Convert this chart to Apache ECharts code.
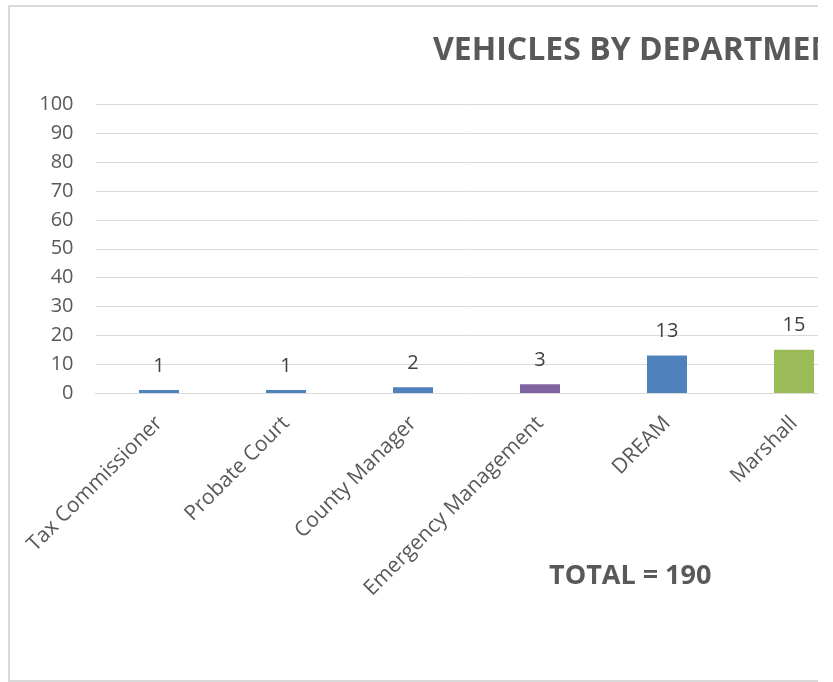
<!DOCTYPE html>
<html>
<head>
<meta charset="utf-8">
<script src="https://cdn.jsdelivr.net/npm/echarts@6/dist/echarts.min.js"></script>
<style>html,body{margin:0;padding:0;background:#fff;}#c{width:833px;height:682px;}</style>
</head>
<body>
<div id="c"></div>
<script>
const categories = ['Tax Commissioner', 'Probate Court', 'County Manager', 'Emergency Management', 'DREAM', 'Marshall'];
const vehicleCounts = [1, 1, 2, 3, 13, 15];
const barColors = ['#4F81BD', '#4F81BD', '#4F81BD', '#8064A2', '#4F81BD', '#9BBB59'];
const yTicks = { min: 0, max: 100, interval: 10 };
const titleText = 'VEHICLES BY DEPARTMENT';
const totalText = 'TOTAL = 190';

const chart = echarts.init(document.getElementById('c'), null, { renderer: 'canvas' });
const font = '"Open Sans", sans-serif';
chart.setOption({
  backgroundColor: '#ffffff',
  animation: false,
  title: {
    text: titleText,
    left: 428, top: 30,
    textStyle: { fontFamily: font, fontWeight: 'bold', fontSize: 32, color: '#595959' }
  },
  grid: { left: 95.5, top: 104.5, width: 762, height: 288.5, outerBoundsMode: 'none', containLabel: false },
  xAxis: {
    type: 'category',
    data: categories,
    axisLine: { show: true, lineStyle: { color: '#d9d9d9', width: 1 } },
    axisTick: { show: false },
    axisLabel: { rotate: 45, margin: 27, interval: 0, fontFamily: font, fontSize: 21, color: '#595959' }
  },
  yAxis: {
    type: 'value',
    min: yTicks.min, max: yTicks.max, interval: yTicks.interval,
    axisLine: { show: false },
    axisTick: { show: false },
    splitLine: { lineStyle: { color: '#d9d9d9', width: 1 } },
    axisLabel: { margin: 22, fontFamily: font, fontSize: 20, color: '#595959' }
  },
  series: [{
    type: 'bar',
    barWidth: 40,
    data: vehicleCounts.map((v, i) => ({ value: v, itemStyle: { color: barColors[i] } })),
    label: { show: true, position: 'top', distance: 14, fontFamily: font, fontSize: 20, color: '#404040' }
  }],
  graphic: [
    { type: 'text', left: 549, top: 563, z: 50,
      style: { text: totalText, fontFamily: font, fontWeight: 'bold', fontSize: 27, fill: '#595959' } },
    { type: 'rect', z: 90, shape: { x: 9, y: 6, width: 900, height: 675 },
      style: { fill: null, stroke: '#d9d9d9', lineWidth: 2 } },
    { type: 'rect', z: 100, shape: { x: 818, y: 0, width: 15, height: 682 },
      style: { fill: '#ffffff', stroke: null } }
  ]
});
</script>
</body>
</html>
